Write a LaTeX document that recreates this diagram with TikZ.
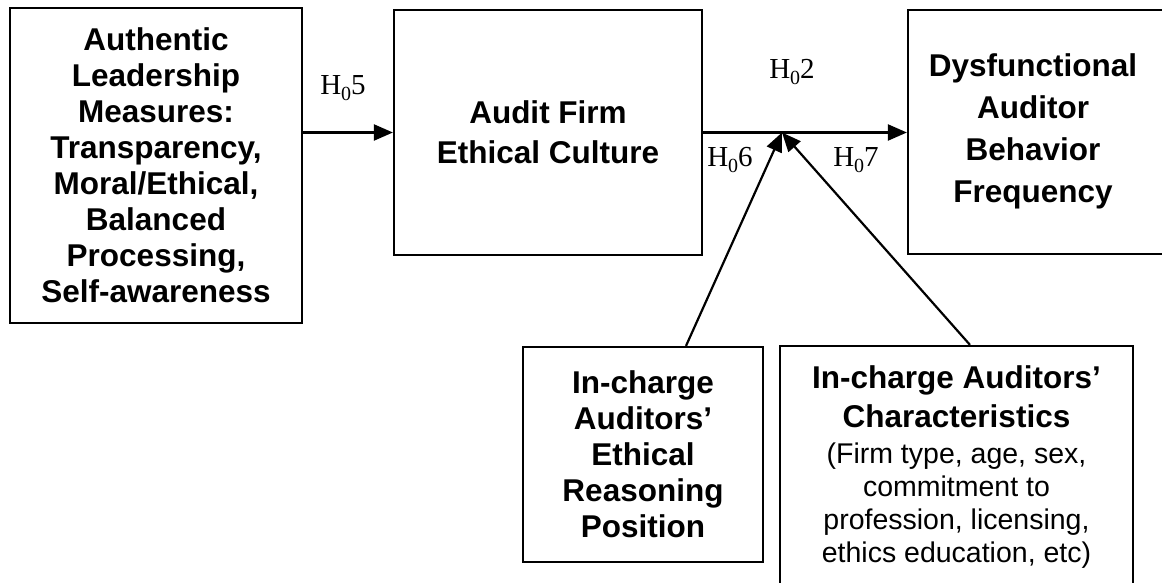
\documentclass[tikz,border=0pt]{standalone}
\usepackage{fontspec}
\setmainfont{Liberation Serif}
\newfontfamily\arialf{Liberation Sans}
\usetikzlibrary{arrows.meta,calc}
\tikzset{
  box/.style={draw, line width=2.2pt, inner sep=0pt, align=center},
  bigtxt/.style={font=\arialf\bfseries\fontsize{31.5}{36}\selectfont, inner sep=0pt, align=center},
  regtxt/.style={font=\arialf\fontsize{28.5}{33}\selectfont, inner sep=0pt, align=center},
  arr/.style={line width=2.2pt, -{Triangle[length=19pt,width=16pt]}},
  hlab/.style={font=\fontsize{29}{29}\selectfont, inner sep=0pt}
}
\newcommand\Hsub[1]{H\raisebox{-0.22em}{\fontsize{20}{20}\selectfont 0}#1}
\begin{document}
\begin{tikzpicture}[x=1pt,y=-1pt]
\useasboundingbox (0,0) rectangle (1162,583);
\clip (0,0) rectangle (1162,583);
% boxes
\node[box,bigtxt,minimum width=292pt,minimum height=315pt] (lead) at (156,165.5)
  {Authentic\\Leadership\\Measures:\\Transparency,\\Moral/Ethical,\\Balanced\\Processing,\\Self-awareness};
\node[box,bigtxt,font=\arialf\bfseries\fontsize{31.5}{40}\selectfont,minimum width=308pt,minimum height=245pt] (mid) at (548,132.5)
  {Audit Firm\\Ethical Culture};
\node[box,minimum width=267pt,minimum height=244pt] (dysbox) at (1041.5,132) {};
\node[bigtxt,font=\arialf\bfseries\fontsize{31.5}{42}\selectfont] (dys) at (1033,131)
  {Dysfunctional\\Auditor\\Behavior\\Frequency};
\node[box,bigtxt,minimum width=240pt,minimum height=215pt] (erp) at (643,454.5)
  {In-charge\\Auditors’\\Ethical\\Reasoning\\Position};
\node[box,minimum width=353pt,minimum height=260pt] (chrbox) at (956.5,476) {};
\node[bigtxt,font=\arialf\bfseries\fontsize{31.5}{39}\selectfont,anchor=north] (chra) at (956.5,365)
  {In-charge Auditors’\\Characteristics};
\node[regtxt,anchor=north] (chrb) at (956.5,443)
  {(Firm type, age, sex,\\commitment to\\profession, licensing,\\ethics education, etc)};
% junction
\coordinate (j) at (782,132.5);
% arrows
\draw[arr] (lead.east |- mid.west) -- (mid.west);
\draw[arr] (mid.east) -- (mid.east -| dysbox.west);
\draw[arr] ([xshift=43pt]erp.north) -- (j);
\draw[arr] ([xshift=13.5pt]chrbox.north) -- (j);
% labels
\node[hlab] (h5) at (343,88) {\Hsub{5}};
\node[hlab] (h2) at (792,72) {\Hsub{2}};
\node[hlab] (h6) at (730,160) {\Hsub{6}};
\node[hlab] (h7) at (856,160) {\Hsub{7}};
\end{tikzpicture}
\end{document}
